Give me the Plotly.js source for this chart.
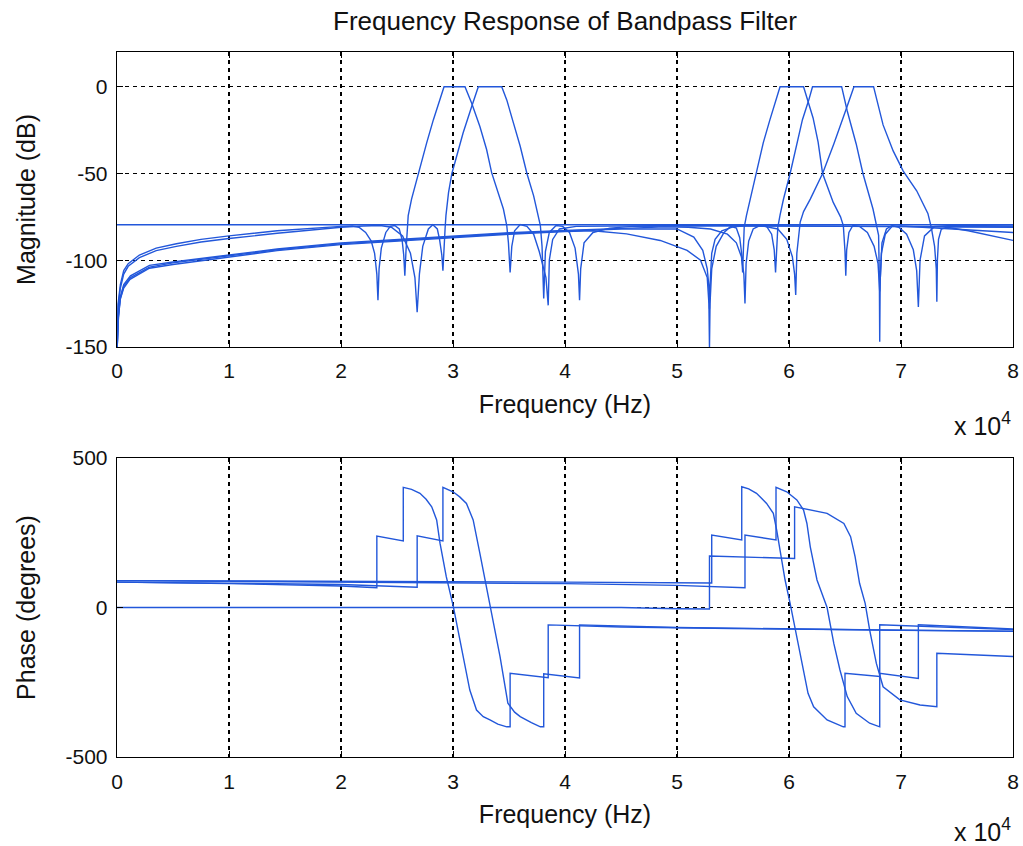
<!DOCTYPE html>
<html>
<head>
<meta charset="utf-8">
<script src="https://cdn.plot.ly/plotly-3.0.1.min.js"></script>
<style>html,body{margin:0;padding:0;background:#fff;}#chart{width:1023px;height:846px;}</style>
</head>
<body>
<div id="chart"></div>
<script>
// Frequencies in units of 10^4 Hz
// ---- Magnitude (dB) ----
const magFlatF = [0, 8];
const magFlatDb = [-79.6, -79.6];

const magAF = [0.002,0.01,0.03,0.06,0.1,0.2,0.35,0.53,0.75,1.0,1.43,1.75,2.0,2.1,2.16,2.22,2.27,2.30,2.32,2.33,2.34,2.36,2.40,2.44,2.48,2.52,2.545,2.56,2.57,2.58,2.59,2.60,2.63,2.69,2.765,2.825,2.884,2.92,3.107,3.167,3.24,3.30,3.345,3.39,3.45,3.48,3.495,3.51,3.525,3.55,3.60,3.66,3.72,3.77,3.83,3.85,3.86,3.89,3.95,4.1,5.0,6.0,7.0,8.0];
const magADb = [-150,-125,-114,-106,-102,-97,-93,-90.5,-88,-86,-83,-81.5,-80.5,-80.3,-81,-84,-89,-96,-108,-123,-105,-93,-84,-80.5,-80,-82,-88,-97,-109,-95,-80,-74.3,-64.8,-50,-32.4,-19,-7.6,0,0,-9.5,-22.9,-36.2,-49.5,-59,-70.5,-80,-90,-107,-92,-83,-79.5,-80.5,-85,-95,-110,-126,-100,-88,-82,-80.5,-80,-80.2,-80.5,-80.8];

const magBF = [0.002,0.01,0.03,0.06,0.1,0.2,0.35,0.53,0.75,1.0,1.43,1.75,2.0,2.2,2.35,2.45,2.55,2.62,2.66,2.68,2.70,2.73,2.78,2.82,2.86,2.88,2.90,2.91,2.92,2.93,2.937,2.96,2.99,3.03,3.09,3.167,3.226,3.435,3.48,3.54,3.60,3.66,3.72,3.76,3.78,3.795,3.81,3.825,3.86,3.92,3.98,4.04,4.09,4.12,4.13,4.14,4.17,4.25,4.4,4.6,5.5,6.5,8.0];
const magBDb = [-150,-127,-116,-108,-103.5,-98.5,-94.5,-92,-89.5,-87.5,-84.5,-82.5,-81,-80.3,-80,-81,-86,-96,-110,-130,-108,-92,-82,-79.5,-82,-88,-97,-106,-90,-81,-74.3,-61,-50,-40,-26.7,-11.4,0,0,-7.6,-21,-34.3,-50,-62.9,-74.3,-80,-92,-122,-95,-84,-80,-80.5,-84,-93,-108,-123,-105,-90,-84,-81.5,-80.5,-80.2,-80.5,-81];

const magCF = [0.002,0.01,0.027,0.06,0.116,0.29,0.5,0.68,1.0,1.43,2.0,2.5,3.0,3.5,4.0,4.25,4.55,4.85,5.09,5.21,5.27,5.285,5.29,5.295,5.31,5.35,5.42,5.48,5.53,5.56,5.575,5.586,5.595,5.60,5.62,5.705,5.77,5.83,5.885,5.92,6.13,6.165,6.215,6.26,6.30,6.395,6.46,6.485,6.50,6.507,6.515,6.535,6.57,6.63,6.70,6.76,6.795,6.81,6.825,6.86,6.92,7.0,7.5,8.0];
const magCDb = [-150,-136,-123,-116,-111,-104.6,-102.5,-101,-98,-94.5,-91,-89,-87,-85,-83.5,-83,-84.8,-88.6,-94.3,-100,-110,-125,-150,-125,-105,-92,-84,-80.5,-81.5,-87,-95,-107,-90,-81,-74.3,-50,-32.4,-19,-7.6,0,0,-8,-18,-32,-50,-66.7,-75,-80,-95,-109,-94,-84,-80,-80.5,-84,-92,-102,-118,-96,-85,-80.5,-80.3,-82,-84];

const magDF = [0.002,0.01,0.03,0.06,0.12,0.29,0.5,0.68,1.0,1.43,2.0,2.5,3.0,3.5,4.0,4.5,4.9,5.1,5.3,5.45,5.53,5.575,5.597,5.607,5.617,5.64,5.68,5.74,5.80,5.845,5.868,5.88,5.89,5.90,5.92,5.95,6.01,6.07,6.12,6.175,6.21,6.47,6.52,6.60,6.66,6.75,6.80,6.807,6.81,6.814,6.83,6.87,6.92,6.98,7.05,7.11,7.14,7.155,7.17,7.21,7.3,7.45,8.0];
const magDDb = [-150,-133,-121,-114,-109,-103,-101,-99.5,-97,-93.5,-90,-88,-86,-84.2,-82.8,-81.5,-80.8,-81,-82,-85,-90,-98,-108,-125,-102,-89,-82,-80,-80.5,-85,-94,-107,-90,-81,-74,-65,-50,-32,-19,-8,0,0,-14,-33,-50,-70.5,-85.7,-112,-147,-112,-90,-82,-80,-81,-85,-94,-106,-127,-100,-86,-80.5,-80,-80.3];

const magEF = [0.002,0.01,0.03,0.06,0.12,0.29,0.5,0.68,1.0,1.43,2.0,2.5,3.0,3.5,4.0,4.5,5.0,5.15,5.23,5.27,5.283,5.29,5.297,5.31,5.34,5.40,5.5,5.65,5.78,5.9,5.98,6.03,6.05,6.06,6.07,6.085,6.10,6.13,6.19,6.30,6.40,6.51,6.58,6.755,6.84,6.93,7.02,7.14,7.24,7.27,7.30,7.315,7.32,7.325,7.335,7.36,7.41,7.6,7.8,8.0];
const magEDb = [-150,-134,-122,-115,-110,-104,-101.5,-100,-97.5,-94,-90.5,-88.5,-86.5,-84.6,-83.2,-82,-82,-86.7,-94.3,-105,-114,-128,-112,-96,-88,-83,-80.8,-80,-80.5,-82,-88,-98,-108,-120,-96,-85,-78,-72,-64.8,-50,-33,-13,0,0,-22,-37,-48.6,-60,-73,-81,-92,-105,-124,-100,-88,-82,-81,-83,-86,-88.6];

// ---- Phase (degrees) ----
const phAF = [0,1.0,2.0,2.32,2.32,2.556,2.556,2.63,2.705,2.76,2.81,2.854,2.884,2.94,3.003,3.09,3.15,3.21,3.27,3.33,3.40,3.48,3.51,3.51,3.85,3.85,4.5,5.5,7.0,8.0];
const phADeg = [85,80,72,66,239,223,402,395,382,362,337,293,215,103,3,-164,-276,-343,-365,-376,-390,-399,-399,-220,-235,-58,-65,-70,-76,-80];

const phBF = [0,1.0,2.0,2.68,2.68,2.91,2.91,3.0,3.06,3.12,3.18,3.24,3.30,3.36,3.42,3.45,3.49,3.55,3.60,3.70,3.78,3.81,3.81,4.13,4.13,5.0,6.0,7.0,8.0];
const phBDeg = [85,82,77,68,240,223,402,387,370,348,293,181,70,-42,-164,-231,-320,-350,-365,-385,-399,-399,-222,-236,-58,-67,-72,-76,-79];

const phCF = [0,2.0,4.0,5.31,5.31,5.578,5.578,5.64,5.71,5.80,5.86,5.89,5.92,5.965,6.01,6.07,6.13,6.17,6.22,6.34,6.485,6.50,6.50,6.81,6.81,7.5,8.0];
const phCDeg = [90,88,85,82,242,226,404,397,382,348,315,259,192,92,14,-98,-209,-287,-332,-376,-399,-399,-220,-231,-58,-68,-74];

const phDF = [0,2.0,4.0,5.0,5.607,5.607,5.884,5.884,5.98,6.07,6.13,6.16,6.19,6.25,6.34,6.40,6.455,6.52,6.60,6.72,6.81,6.81,7.155,7.155,7.6,8.0];
const phDDeg = [90,86,80,74,66,242,226,402,387,360,326,281,203,92,0,-120,-209,-298,-354,-387,-399,-220,-237,-58,-66,-72];

const phEF = [0,2.0,4.5,5.0,5.29,5.29,6.05,6.05,6.19,6.34,6.49,6.55,6.59,6.63,6.68,6.72,6.78,6.84,6.99,7.17,7.32,7.32,8.0];
const phEDeg = [0,0,0,-4,-5,172,164,337,326,315,281,237,170,81,14,-75,-187,-265,-309,-326,-332,-153,-164];

const xTicks = [0,1,2,3,4,5,6,7,8];
const magTicks = [-150,-100,-50,0];
const phTicks = [-500,0,500];

const lineBlue = '#2257da';
function tr(x, y, ax) {
  return {x: x, y: y, type: 'scatter', mode: 'lines', xaxis: ax[0], yaxis: ax[1],
          line: {color: lineBlue, width: 1.4}, hoverinfo: 'skip', showlegend: false};
}
const axTop = ['x', 'y'], axBot = ['x2', 'y2'];
const traces = [
  tr(magFlatF, magFlatDb, axTop),
  tr(magAF, magADb, axTop), tr(magBF, magBDb, axTop),
  tr(magCF, magCDb, axTop), tr(magDF, magDDb, axTop), tr(magEF, magEDb, axTop),
  tr(phAF, phADeg, axBot), tr(phBF, phBDeg, axBot),
  tr(phCF, phCDeg, axBot), tr(phDF, phDDeg, axBot), tr(phEF, phEDeg, axBot)
];

const fontFam = 'Arial, "Liberation Sans", sans-serif';
const tickFont = {family: fontFam, size: 21, color: '#111'};
const labelFont = {family: fontFam, size: 25, color: '#111'};
const headFont = {family: fontFam, size: 26, color: '#111'};
function xax(anchor) {
  return {
    anchor: anchor, domain: [0, 1], range: [0, 8], tickvals: xTicks, ticktext: xTicks.map(String),
    ticks: 'inside', ticklen: 6, tickcolor: '#000', showline: true, linecolor: '#000', linewidth: 1.3,
    mirror: 'ticks', showgrid: true, gridcolor: '#000', gridwidth: 1.4, griddash: '4px,4px',
    zeroline: false, tickfont: tickFont, ticklabelstandoff: 5,
    title: {text: 'Frequency (Hz)', font: labelFont, standoff: 14}
  };
}
function yax(anchor, domain, range, ticks, title) {
  return {
    anchor: anchor, domain: domain, range: range, tickvals: ticks, ticktext: ticks.map(String),
    ticks: 'inside', ticklen: 6, tickcolor: '#000', showline: true, linecolor: '#000', linewidth: 1.3,
    mirror: 'ticks', showgrid: true, gridcolor: '#000', gridwidth: 1.4, griddash: '4px,4px',
    zeroline: false, tickfont: tickFont, ticklabelstandoff: 4,
    title: {text: title, font: labelFont, standoff: 22}
  };
}

const layout = {
  width: 1023, height: 846,
  margin: {l: 117, r: 10, t: 52, b: 89},
  paper_bgcolor: '#fff', plot_bgcolor: '#fff',
  title: {text: 'Frequency Response of Bandpass Filter', font: headFont,
          x: 0.5, xref: 'paper', y: 1 - 21 / 846, yref: 'container', yanchor: 'middle'},
  xaxis: xax('y'),
  yaxis: yax('x', [0.5816, 1], [-150, 20], magTicks, 'Magnitude (dB)'),
  xaxis2: xax('y2'),
  yaxis2: yax('x2', [0, 0.4241], [-500, 500], phTicks, 'Phase (degrees)'),
  annotations: [
    {text: 'x 10<sup>4</sup>', xref: 'paper', yref: 'paper', x: 1, y: (757 - 424) / 705,
     xanchor: 'right', yanchor: 'middle', showarrow: false, font: labelFont},
    {text: 'x 10<sup>4</sup>', xref: 'paper', yref: 'paper', x: 1, y: (757 - 830) / 705,
     xanchor: 'right', yanchor: 'middle', showarrow: false, font: labelFont}
  ]
};

Plotly.newPlot('chart', traces, layout, {displayModeBar: false, staticPlot: true});
</script>
</body>
</html>
